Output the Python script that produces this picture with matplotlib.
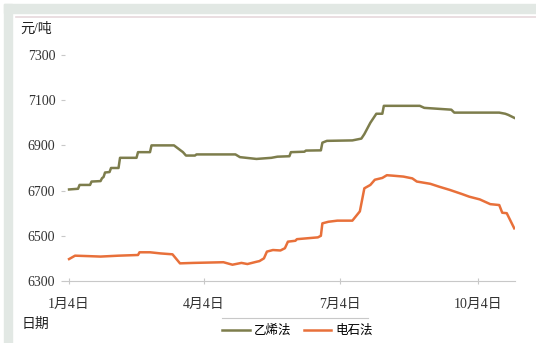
import pandas as pd
import matplotlib
matplotlib.use('Agg')
import matplotlib.pyplot as plt
from matplotlib.patches import Rectangle
from matplotlib.lines import Line2D

plt.rcParams['font.family'] = ['Liberation Serif', 'Noto Sans CJK SC']

# days counted from 1月4日
base = pd.Timestamp('2021-01-04')

ethylene_days = [0, 6, 7, 14, 15, 21, 22, 23, 24, 27, 28, 33, 34, 45, 46, 54, 55, 70, 76, 78,
                 84, 85, 111, 114, 125, 135, 139, 147, 148, 157, 158, 168, 169, 172, 189, 195,
                 197, 201, 203, 205, 209, 210, 234, 237, 246, 255, 257, 287, 291, 293, 297]
ethylene_vals = [6705, 6708, 6725, 6725, 6740, 6742, 6755, 6760, 6780, 6782, 6800, 6800, 6845,
                 6845, 6870, 6870, 6900, 6900, 6870, 6855, 6855, 6860, 6860, 6848, 6840, 6845,
                 6850, 6852, 6870, 6872, 6877, 6878, 6912, 6920, 6922, 6930, 6950, 7000, 7020,
                 7040, 7040, 7075, 7075, 7066, 7062, 7058, 7045, 7045, 7040, 7035, 7022]

carbide_days = [0, 4, 13, 21, 33, 46, 47, 54, 61, 69, 74, 83, 103, 109, 115, 119, 125, 127,
                130, 132, 136, 141, 144, 146, 151, 152, 166, 168, 169, 173, 179, 189, 194, 197,
                201, 204, 209, 212, 216, 223, 229, 232, 241, 247, 254, 262, 267, 274, 281, 287,
                289, 292, 297]
carbide_vals = [6397, 6412, 6410, 6408, 6412, 6415, 6427, 6427, 6422, 6418, 6378, 6380, 6383,
                6372, 6380, 6375, 6385, 6388, 6400, 6430, 6437, 6435, 6445, 6474, 6478, 6485,
                6493, 6500, 6555, 6562, 6567, 6567, 6608, 6710, 6725, 6748, 6756, 6768, 6766,
                6762, 6754, 6740, 6730, 6717, 6703, 6685, 6673, 6661, 6640, 6636, 6602, 6600,
                6533]

tick_dates = ['2021-01-04', '2021-04-04', '2021-07-04', '2021-10-04']
tick_labels = ['1月4日', '4月4日', '7月4日', '10月4日']
y_ticks = [6300, 6500, 6700, 6900, 7100, 7300]

fig = plt.figure(figsize=(5.36, 3.43), dpi=100)

# outer frame like the screenshot
fig.patches.append(Rectangle((0.008, 0.962), 0.992, 0.026, transform=fig.transFigure,
                             color='#e2e8e4', zorder=0))
fig.patches.append(Rectangle((0.008, 0.0), 0.015, 0.988, transform=fig.transFigure,
                             color='#e2e8e4', zorder=0))
fig.add_artist(Line2D([0.03, 1.0], [0.95, 0.95], transform=fig.transFigure,
                      color='#e6d8dc', lw=1.2))

ax = fig.add_axes([0.1213, 0.1808, 0.8395, 0.6589])
ax.plot(ethylene_days, ethylene_vals, color='#7d7d4c', lw=1.8, label='乙烯法')
ax.plot(carbide_days, carbide_vals, color='#e8703a', lw=1.8, label='电石法')

ax.set_ylim(6300, 7300)
ax.set_xlim(-2.7, 297.5)
ax.set_yticks(y_ticks)
ax.set_xticks([(pd.Timestamp(d) - base).days for d in tick_dates])
ax.set_xticklabels(tick_labels)

for s in ['top', 'right', 'left']:
    ax.spines[s].set_visible(False)
ax.spines['bottom'].set_color('#c8c8c8')
ax.tick_params(axis='y', length=3, color='#c8c8c8', labelsize=10, labelcolor='#333333', pad=4)
ax.tick_params(axis='x', direction='inout', length=4, color='#c8c8c8', labelsize=10,
               labelcolor='#333333', pad=10)

fig.text(0.038, 0.905, '元/吨', fontsize=10, color='#222222')
fig.text(0.040, 0.045, '日期', fontsize=10, color='#222222')

leg = fig.legend(loc='center', bbox_to_anchor=(0.555, 0.035), ncol=2, frameon=False,
                 fontsize=9, handlelength=2.2, columnspacing=1.0, handletextpad=0.3)
fig.add_artist(Line2D([0.415, 0.687], [0.073, 0.073], transform=fig.transFigure,
                      color='#c8c8c8', lw=0.8))

fig.savefig('out.png', dpi=100)
